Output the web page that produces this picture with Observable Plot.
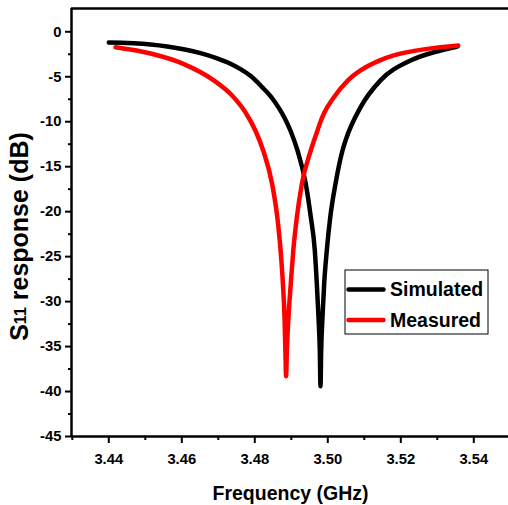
<!DOCTYPE html>
<html>
<head>
<meta charset="utf-8">
<script src="https://cdn.jsdelivr.net/npm/d3@7"></script>
<script src="https://cdn.jsdelivr.net/npm/@observablehq/plot@0.6"></script>
<style>
  html, body { margin: 0; padding: 0; background: #fff; }
  #chart { width: 508px; height: 505px; }
</style>
</head>
<body>
<div id="chart"></div>
<script>
// ---- Data ----
const simFreq = [3.44000, 3.45142, 3.45600, 3.46512, 3.46929, 3.47334, 3.47608, 3.47882, 3.48200, 3.48430,
                 3.48649, 3.48813, 3.48978, 3.49170, 3.49397, 3.49534, 3.49644, 3.49699, 3.49745, 3.49781,
                 3.49800, 3.49819, 3.49855, 3.49901, 3.49973, 3.50068, 3.50211, 3.50403, 3.50485, 3.50896,
                 3.51444, 3.52266, 3.53088, 3.53553];
const simS11 = [-1.2, -1.41, -1.63, -2.38, -2.9, -3.55, -4.15, -4.9, -6.15, -7.15,
                -8.4, -9.55, -11.0, -13.2, -16.9, -20.6, -24.3, -28.0, -31.7, -35.4,
                -39.4, -35.4, -31.7, -28.0, -24.3, -20.6, -16.9, -13.2, -12.1, -8.4,
                -5.4, -3.2, -2.08, -1.63];

const measFreq = [3.44184, 3.45173, 3.46041, 3.46877, 3.47359, 3.47751, 3.48019, 3.48230, 3.48474, 3.48616,
                  3.48707, 3.48770, 3.48814, 3.48838, 3.48857, 3.48879, 3.48923, 3.48986, 3.49055, 3.49153,
                  3.49290, 3.49534, 3.49699, 3.49800, 3.49904, 3.50164, 3.50553, 3.50896, 3.51411, 3.51808,
                  3.52723, 3.53574];
const measS11 = [-1.72, -2.44, -3.56, -5.4, -7.0, -9.0, -11.0, -13.2, -16.9, -20.6,
                 -24.3, -28.0, -31.7, -35.4, -38.3, -35.4, -31.7, -28.0, -24.3, -20.6,
                 -16.9, -13.2, -11.2, -10.0, -9.0, -7.3, -5.4, -4.3, -3.2, -2.63,
                 -1.9, -1.52];

const xMajorTicks = [3.44, 3.46, 3.48, 3.50, 3.52, 3.54];
const xMinorTicks = [3.43, 3.45, 3.47, 3.49, 3.51, 3.53];
const yMajorTicks = [0, -5, -10, -15, -20, -25, -30, -35, -40, -45];
const yMinorTicks = [-2.5, -7.5, -12.5, -17.5, -22.5, -27.5, -32.5, -37.5, -42.5];
const xDomain = [3.42978, 3.54951];
const yDomain = [-45, 2.59];
const seriesNames = ["Simulated", "Measured"];
const seriesColors = ["#000000", "#ff0000"];
const xTitle = "Frequency (GHz)";

const simData = simFreq.map((f, i) => ({f, db: simS11[i]}));
const measData = measFreq.map((f, i) => ({f, db: measS11[i]}));

const FONT = "'Liberation Sans', Arial, sans-serif";

const plot = Plot.plot({
  width: 508,
  height: 505,
  marginLeft: 71,
  marginRight: 0,
  marginTop: 8,
  marginBottom: 69,
  style: {fontFamily: FONT, fontWeight: "bold", fontSize: "14.5px", color: "#000", background: "#fff", overflow: "visible"},
  x: {domain: xDomain},
  y: {domain: yDomain},
  marks: [
    Plot.axisX(xMajorTicks, {anchor: "bottom", tickSize: 7, tickPadding: 10, strokeWidth: 2,
      tickFormat: d => d.toFixed(2), label: null, fontSize: 14.8, fontWeight: "bold"}),
    Plot.axisX(xMinorTicks, {anchor: "bottom", tickSize: 4, strokeWidth: 2,
      tickFormat: () => "", label: null}),
    Plot.axisY(yMajorTicks, {anchor: "left", tickSize: 6, tickPadding: 4, strokeWidth: 2,
      tickFormat: d => String(d), label: null, fontSize: 14.8, fontWeight: "bold"}),
    Plot.axisY(yMinorTicks, {anchor: "left", tickSize: 3, strokeWidth: 2,
      tickFormat: () => "", label: null}),
    Plot.ruleY([yDomain[0]], {stroke: "#000", strokeWidth: 2.5}),
    Plot.ruleY([yDomain[1]], {stroke: "#000", strokeWidth: 2.5}),
    Plot.ruleX([xDomain[0]], {stroke: "#000", strokeWidth: 2.5}),
    Plot.line(simData, {x: "f", y: "db", stroke: seriesColors[0], strokeWidth: 4.5,
      curve: "monotone-x", strokeLinecap: "round", strokeLinejoin: "round"}),
    Plot.line(measData, {x: "f", y: "db", stroke: seriesColors[1], strokeWidth: 4.5,
      curve: "monotone-x", strokeLinecap: "round", strokeLinejoin: "round"})
  ]
});

document.getElementById("chart").appendChild(plot);

const svg = d3.select(plot);

// x-axis title
svg.append("text")
  .attr("x", 290.5).attr("y", 500)
  .attr("text-anchor", "middle")
  .attr("style", `font-family:${FONT};font-weight:bold;font-size:19.5px`)
  .attr("fill", "#000")
  .text(xTitle);

// y-axis title with subscript
const yt = svg.append("text")
  .attr("transform", "translate(28,236.5) rotate(-90)")
  .attr("text-anchor", "middle")
  .attr("style", `font-family:${FONT};font-weight:bold;font-size:25px`)
  .attr("fill", "#000");
yt.append("tspan").text("S");
yt.append("tspan").attr("style", "font-size:16px").attr("dy", -2).text("11");
yt.append("tspan").attr("dy", 2).text(" response (dB)");

// legend
const lg = svg.append("g");
lg.append("rect").attr("x", 345).attr("y", 270).attr("width", 143).attr("height", 64)
  .attr("fill", "#fff").attr("stroke", "#000").attr("stroke-width", 1);
const rowsY = [289.5, 320];
seriesNames.forEach((name, i) => {
  lg.append("line").attr("x1", 348.5).attr("x2", 383.5).attr("y1", rowsY[i]).attr("y2", rowsY[i])
    .attr("stroke", seriesColors[i]).attr("stroke-width", 4.5).attr("stroke-linecap", "round");
  lg.append("text").attr("x", 390).attr("y", rowsY[i] + 6.5)
    .attr("text-anchor", "start")
    .attr("style", `font-family:${FONT};font-weight:bold;font-size:19.5px`)
    .attr("fill", "#000").text(name);
});
</script>
</body>
</html>
